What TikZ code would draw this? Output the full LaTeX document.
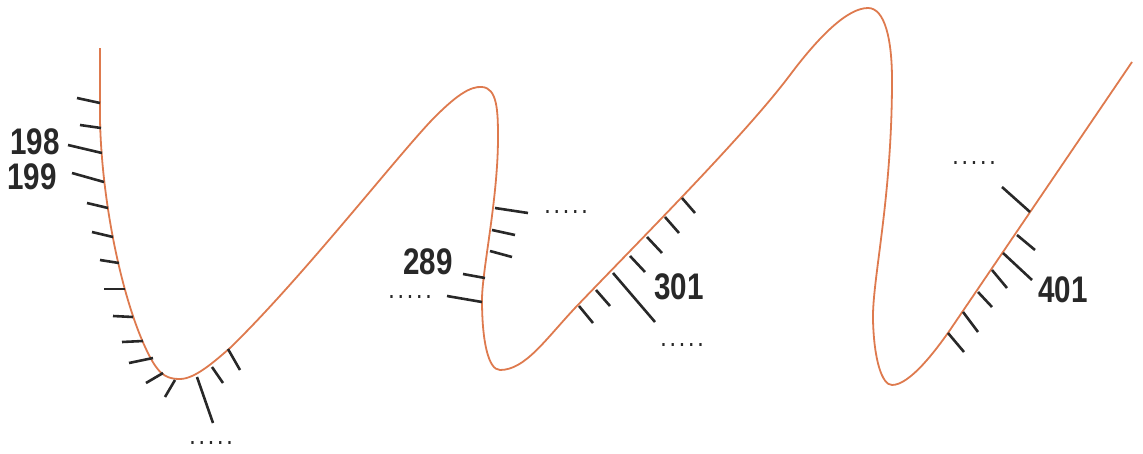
\documentclass[tikz,border=0pt]{standalone}
\usepackage{fontspec}
\setmainfont[FakeStretch=0.8]{Liberation Sans}
\definecolor{curvecol}{RGB}{222,122,78}
\definecolor{ink}{RGB}{40,40,40}
\newcommand\fivedots{.\hspace{4.8pt}.\hspace{4.8pt}.\hspace{4.8pt}.\hspace{4.8pt}.}
\begin{document}
\begin{tikzpicture}[x=1pt,y=-1pt,
  curveline/.style={draw=curvecol,line width=1.8pt,line join=round},
  tickline/.style={draw=ink,line width=2.6pt},
  num/.style={inner sep=0pt,text=ink,font=\fontsize{37}{37}\selectfont\bfseries},
  dotlabel/.style={inner sep=0pt,text=ink,font=\fontsize{20}{20}\selectfont\bfseries}]
\useasboundingbox (0,0) rectangle (1143,453);
% the curve
\draw[curveline] (100,48) -- (100,120)
  .. controls (102,210) and (125,310) .. (150,357)
  .. controls (160,376) and (168,379) .. (180,379)
  .. controls (195,379) and (215,361) .. (230,348)
  .. controls (300,280) and (390,165) .. (430,122)
  .. controls (455,96) and (470,86) .. (482,87)
  .. controls (497,88) and (498,110) .. (498,137)
  .. controls (498,200) and (482,270) .. (482,300)
  .. controls (482,340) and (488,370) .. (500,370)
  .. controls (525,370) and (545,340) .. (575,308)
  .. controls (640,240) and (745,135) .. (790,75)
  .. controls (820,35) and (848,8) .. (868,8)
  .. controls (885,8) and (892,40) .. (892,80)
  .. controls (892,200) and (872,280) .. (873,320)
  .. controls (874,360) and (882,385) .. (892,385)
  .. controls (910,385) and (936,350) .. (950,330)
  -- (1132,62);
% left ticks
\foreach \a/\b/\c/\d in {77/98/100/103, 80/125/101/128, 68/145/102/153, 72/173/104/182,
  87/203/108/208, 92/232/113/237, 100/260/119/263, 104/289/125/289, 113/316/133/317,
  122/342/143/341, 129/363/153/358, 146/383/163/373, 165/397/175/380, 197/377/213/423,
  212/367/223/383, 228/349/240/370}
  \draw[tickline] (\a,\b) -- (\c,\d);
% middle ticks
\foreach \a/\b/\c/\d in {495/208/528/213, 492/230/515/235, 490/251/512/257, 463/274/485/278,
  447/296/482/302, 579/306/593/323, 596/290/610/306, 613/273/655/322, 630/256/645/272,
  647/237/662/253, 665/217/679/233, 682/198/695/213}
  \draw[tickline] (\a,\b) -- (\c,\d);
% right ticks
\foreach \a/\b/\c/\d in {1002/187/1030/212, 1017/235/1035/250, 1003/253/1032/280,
  992/270/1007/288, 978/292/992/307, 963/312/978/332, 948/333/964/352}
  \draw[tickline] (\a,\b) -- (\c,\d);
% labels
\node[num] (n198) at (35,142) {198};
\node[num] (n199) at (32,177) {199};
\node[num] (n289) at (428,262) {289};
\node[num] (n301) at (679,287) {301};
\node[num] (n401) at (1063,290) {401};
\node[dotlabel] (d1) at (211,443) {\fivedots};
\node[dotlabel] (d2) at (566,212) {\fivedots};
\node[dotlabel] (d3) at (410,297) {\fivedots};
\node[dotlabel] (d4) at (682,345) {\fivedots};
\node[dotlabel] (d5) at (974,163) {\fivedots};
\end{tikzpicture}
\end{document}
